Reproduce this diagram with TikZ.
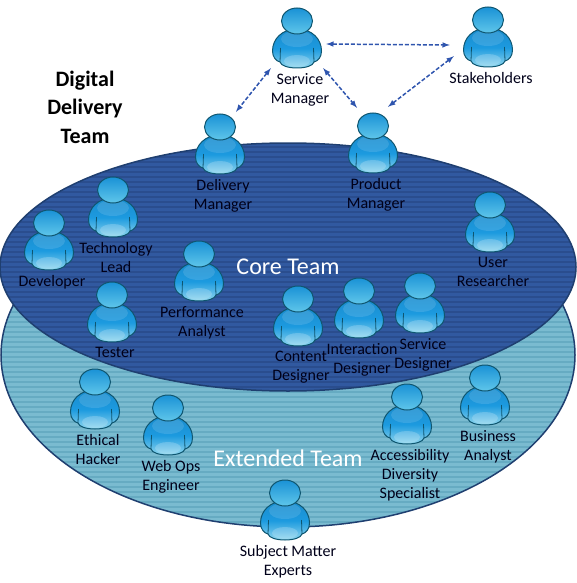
\documentclass[tikz,border=0pt]{standalone}
\usepackage{fontspec}
\setmainfont{Carlito}
\usetikzlibrary{positioning}
\usetikzlibrary{arrows}
\definecolor{coreblue}{HTML}{3159A0}
\definecolor{corestripe}{HTML}{2A4D8E}
\definecolor{extblue}{HTML}{7ABBD0}
\definecolor{extstripe}{HTML}{66ABC2}
\definecolor{rimblue}{HTML}{1F3F70}
\definecolor{manrim}{HTML}{0F5670}
\definecolor{linkblue}{HTML}{2F55AE}
\definecolor{bodytop}{HTML}{1A8CCE}
\definecolor{bodymid}{HTML}{1C9ADF}
\definecolor{bodylow}{HTML}{8FD6EE}
\definecolor{headtop}{HTML}{1A92D6}
\definecolor{headlow}{HTML}{5FC6EA}
\tikzstyle{personbox}=[rectangle,minimum width=52pt,minimum height=60pt,inner sep=0pt]
\tikzstyle{lbl}=[font=\fontsize{16}{19}\selectfont,text=black!90!blue,align=center,inner sep=0pt]
\tikzstyle{teamlbl}=[font=\fontsize{24}{26}\selectfont,text=white,inner sep=0pt]
\tikzstyle{titlelbl}=[font=\fontsize{22}{28.5}\selectfont\bfseries,align=center,inner sep=0pt]
\tikzstyle{link}=[draw=linkblue,dash pattern=on 4pt off 2pt,line width=1.5pt,<->,>=latex]
\tikzset{
  person/.pic={
    \path[draw=manrim,line width=1pt,top color=bodytop,bottom color=bodylow,middle color=bodymid]
      (0,8) .. controls (15,8) and (24.5,18) .. (24.5,30) .. controls (24.5,36) and (21,40) .. (17,41)
      .. controls (16,45) and (8,47) .. (0,47) .. controls (-8,47) and (-16,45) .. (-17,41)
      .. controls (-21,40) and (-24.5,36) .. (-24.5,30) .. controls (-24.5,18) and (-15,8) .. (0,8) -- cycle;
    \fill[white,opacity=0.12] (0,18) ellipse (16 and 8);
    \fill[white,opacity=0.2] (0,40) ellipse (13 and 6);
    \draw[manrim,line width=0.8pt] (-16.5,27) -- (-17,41) (16.5,27) -- (17,41);
    \path[draw=manrim,line width=1pt,top color=headtop,bottom color=headlow] (0,0) ellipse (15.5 and 13);
  }
}
\begin{document}
\begin{tikzpicture}[x=1pt,y=-1pt]
  \useasboundingbox (0,0) rectangle (577,583);

  % extended team
  \begin{scope}
    \clip (288,355) ellipse (287 and 172);
    \fill[extblue] (0,180) rectangle (577,530);
    \foreach \y in {182,187,...,530}
      \draw[extstripe,line width=1.8pt] (0,\y) -- (577,\y);
  \end{scope}
  \draw[rimblue,line width=1.5pt] (288,355) ellipse (287 and 172);

  % core team
  \begin{scope}
    \clip (288,267) ellipse (288 and 124);
    \fill[coreblue] (0,140) rectangle (577,395);
    \foreach \y in {142,147,...,394}
      \draw[corestripe,line width=1.8pt] (0,\y) -- (577,\y);
  \end{scope}
  \draw[rimblue,line width=1.5pt] (288,267) ellipse (288 and 124);

  \node[titlelbl] (title) at (85,107) {Digital\\Delivery\\Team};
  \node[teamlbl] (core) at (288,267) {Core Team};
  \node[teamlbl] (extended) at (288,458) {Extended Team};

  \foreach \x/\y/\name/\label in {
      297/21/service/{Service\\Manager}, 488/20/stake/{Stakeholders},
      220/127/delivery/{Delivery\\Manager}, 373/126/product/{Product\\Manager},
      113/190/techlead/{Technology\\Lead}, 49/223/developer/{Developer},
      112/295/tester/{Tester}, 199/254/perf/{Performance\\Analyst},
      298/299/content/{Content\\Designer}, 359/291/interaction/{Interaction\\Designer},
      420/286/servdes/{Service\\Designer}, 490/205/research/{User\\Researcher},
      485/378/business/{Business\\Analyst}, 407/397/access/{Accessibility\\Diversity\\Specialist},
      95/382/ethical/{Ethical\\Hacker}, 168/408/webops/{Web Ops\\Engineer},
      285/493/subject/{Subject Matter\\Experts}} {
    \pic at (\x,\y) {person};
    \node[personbox] (\name) at (\x,\y+17) {};
    \node[lbl,below=5pt of \name,xshift=3pt] (\name-lbl) {\label};
  }

  \draw[link] ([xshift=3pt,yshift=-6pt]service.east) -- ([xshift=-12pt,yshift=-8pt]stake.west);
  \draw[link] (service.south west) -- ([xshift=16pt,yshift=2pt]delivery.north);
  \draw[link] (service.south east) -- ([xshift=-16pt,yshift=5pt]product.north);
  \draw[link] ([xshift=15pt,yshift=6pt]product.north) -- ([xshift=-8pt,yshift=11pt]stake.south west);
\end{tikzpicture}
\end{document}
